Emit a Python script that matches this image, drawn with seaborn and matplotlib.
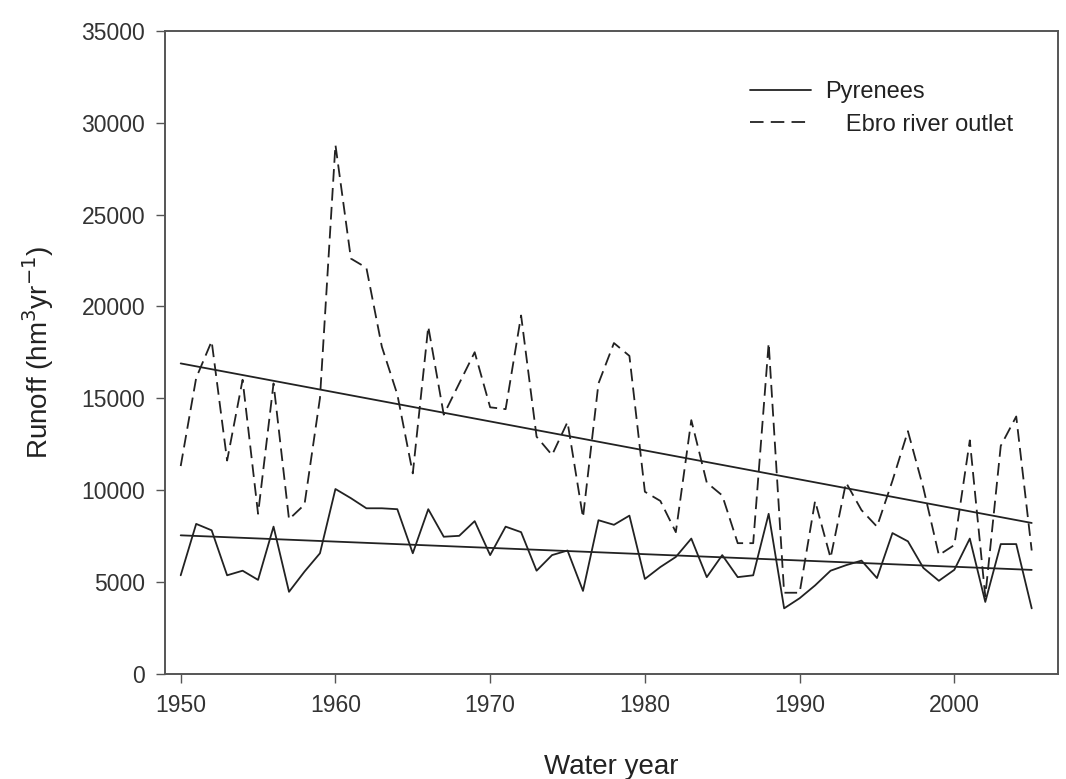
import seaborn as sns
import pandas as pd
import numpy as np
import matplotlib.pyplot as plt

years = list(range(1950, 2006))

pyrenees = [5350, 8150, 7800, 5350, 5600, 5100, 8000, 4450, 5550, 6550,
            10050, 9550, 9000, 9000, 8950, 6550, 8950, 7450, 7500, 8300,
            6450, 8000, 7700, 5600, 6450, 6700, 4500, 8350, 8100, 8600,
            5150, 5800, 6350, 7350, 5250, 6450, 5250, 5350, 8700, 3550,
            4100, 4800, 5600, 5900, 6150, 5200, 7650, 7200, 5750, 5050,
            5650, 7350, 3900, 7050, 7050, 3550]

ebro = [11300, 16100, 18100, 11600, 16000, 8700, 15800, 8400, 9200, 15000,
        28800, 22600, 22100, 17800, 15200, 10900, 18900, 14100, 15800, 17500,
        14500, 14400, 19500, 12900, 11900, 13700, 8500, 15800, 18000, 17300,
        9900, 9400, 7700, 13800, 10400, 9700, 7100, 7100, 18000, 4400,
        4400, 9400, 6300, 10400, 8900, 8000, 10500, 13200, 10100, 6450,
        7000, 12700, 4200, 12400, 14000, 6700]

df = pd.DataFrame({"year": years, "Pyrenees": pyrenees, "Ebro": ebro})

sns.set_theme(style="ticks")
plt.rcParams["font.family"] = ["Liberation Sans", "DejaVu Sans"]

fig, ax = plt.subplots(figsize=(10.66, 7.79), dpi=100)
fig.subplots_adjust(left=0.155, right=0.9925, bottom=0.1354, top=0.9603)

line_col = "#222222"
sns.lineplot(ax=ax, data=df, x="year", y="Pyrenees", color=line_col, lw=1.3,
             label="Pyrenees")
sns.lineplot(ax=ax, data=df, x="year", y="Ebro", color=line_col, lw=1.3,
             dashes=False, label="   Ebro river outlet")
ax.lines[-1].set_dashes((7, 3.5))

# linear trends
sns.regplot(ax=ax, data=df, x="year", y="Pyrenees", scatter=False, ci=None,
            truncate=True, line_kws={"color": line_col, "lw": 1.3})
sns.regplot(ax=ax, data=df, x="year", y="Ebro", scatter=False, ci=None,
            truncate=True, line_kws={"color": line_col, "lw": 1.3})

ax.set_xlim(1949, 2006.7)
ax.set_ylim(0, 35000)
ax.set_xticks([1950, 1960, 1970, 1980, 1990, 2000])
ax.set_yticks(np.arange(0, 35001, 5000))
ax.tick_params(axis="both", labelsize=16.5, direction="out", length=6.5,
               width=1, pad=8, colors="#555555", labelcolor="#333333")
for s in ax.spines.values():
    s.set_linewidth(1.4)
    s.set_color("#555555")

ax.set_xlabel("Water year", fontsize=20, labelpad=27, color="#222222")
ax.set_ylabel("Runoff (hm$^3$yr$^{-1}$)", fontsize=20, labelpad=18,
              color="#222222")

leg = ax.legend(loc="upper left", bbox_to_anchor=(0.655, 0.922),
                frameon=False, fontsize=17, handlelength=2.6,
                handletextpad=0.6, labelspacing=0.45, borderpad=0,
                borderaxespad=0)
leg.get_lines()[1].set_dashes((7.5, 4))
for t in leg.get_texts():
    t.set_color("#222222")

plt.savefig("out.png", dpi=100)
